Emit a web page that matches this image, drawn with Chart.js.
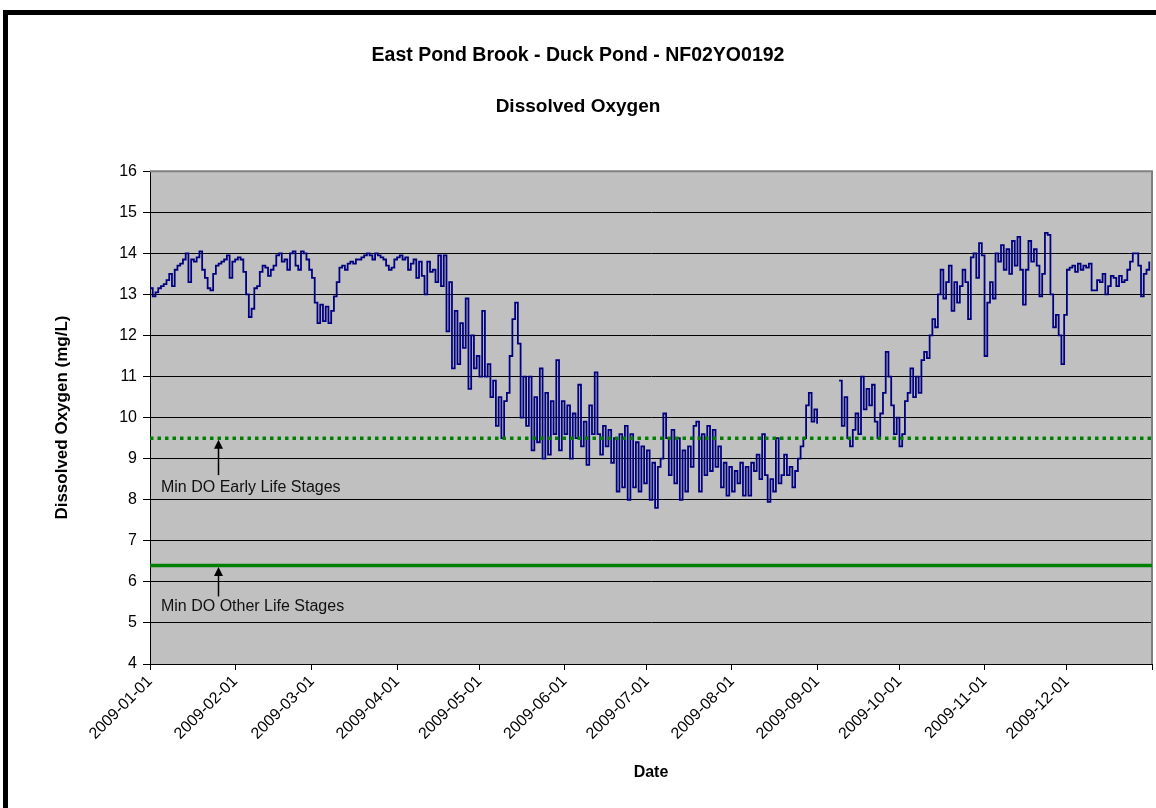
<!DOCTYPE html>
<html>
<head>
<meta charset="utf-8">
<title>East Pond Brook - Duck Pond - Dissolved Oxygen</title>
<script src="https://cdn.jsdelivr.net/npm/chart.js@4.4.0/dist/chart.umd.min.js"></script>
<style>
  html, body { margin: 0; padding: 0; background: #fff; overflow: hidden; }
  #wrap { position: absolute; left: 0; top: 0; width: 1156px; height: 808px; }
  #frame { position: absolute; left: 3px; top: 10px; width: 1200px; height: 900px;
           border: 5px solid #000; pointer-events: none; }
</style>
</head>
<body>
<div id="wrap"><canvas id="chart" width="1156" height="808"></canvas></div>
<div id="frame"></div>
<script>
// daily dissolved oxygen readings (mg/L), one value per day of 2009
const jan = [13.15, 12.95, 13.05, 13.15, 13.2, 13.25, 13.35, 13.5, 13.2, 13.6,
  13.7, 13.75, 13.85, 14.0, 13.3, 13.85, 13.8, 13.9, 14.05, 13.6,
  13.4, 13.15, 13.1, 13.5, 13.7, 13.75, 13.8, 13.85, 13.95, 13.4, 13.8];
const feb = [13.85, 13.9, 13.85, 13.55, 13.0, 12.45, 12.65, 13.15, 13.2, 13.55,
  13.7, 13.65, 13.45, 13.6, 13.7, 13.95, 14.0, 13.8, 13.85, 13.6,
  14.0, 14.05, 13.7, 13.6, 14.05, 14.0, 13.85, 13.6];
const mar = [13.4, 12.8, 12.3, 12.75, 12.35, 12.7, 12.3, 12.6, 12.95, 13.3,
  13.65, 13.7, 13.6, 13.75, 13.8, 13.75, 13.85, 13.85, 13.9, 13.95,
  14.0, 13.95, 13.85, 14.0, 13.95, 13.9, 13.85, 13.7, 13.6, 13.65, 13.85];
const apr = [13.9, 13.95, 13.85, 13.9, 13.6, 13.75, 13.85, 13.4, 13.8, 13.45,
  13.0, 13.8, 13.55, 13.6, 13.3, 13.95, 13.2, 13.95, 12.1, 13.3,
  11.2, 12.6, 11.3, 12.3, 11.7, 12.9, 10.7, 12.0, 11.2, 11.5];
const may = [11.0, 12.6, 11.0, 11.3, 10.5, 10.9, 9.8, 10.5, 9.5, 10.4,
  10.6, 11.5, 12.4, 12.8, 11.8, 10.0, 11.0, 9.8, 11.0, 9.2,
  10.5, 9.4, 11.2, 9.0, 10.6, 9.1, 10.4, 9.6, 11.4, 9.2, 10.4];
const jun = [9.6, 10.3, 9.0, 10.1, 9.5, 10.8, 9.3, 9.9, 8.85, 10.3,
  9.6, 11.1, 9.6, 9.1, 9.8, 9.3, 9.7, 8.9, 9.5, 8.2,
  9.6, 8.3, 9.8, 8.0, 9.6, 8.3, 9.4, 8.2, 9.3, 8.4];
const jul = [9.2, 8.0, 8.9, 7.8, 8.8, 9.0, 10.1, 9.5, 8.6, 9.7,
  8.4, 9.5, 8.0, 9.2, 8.2, 9.3, 8.8, 9.8, 9.9, 8.2,
  9.6, 8.6, 9.8, 8.7, 9.7, 8.8, 9.3, 8.3, 8.9, 8.1, 8.8];
const aug = [8.2, 8.7, 8.4, 8.9, 8.1, 8.8, 8.1, 8.9, 8.7, 9.1,
  8.5, 9.6, 8.6, 7.95, 8.5, 8.2, 9.5, 8.4, 8.6, 9.1,
  8.6, 8.8, 8.3, 8.7, 9.0, 9.3, 9.5, 10.3, 10.6, 9.9, 10.2];
const sep = [9.85, null, null, null, null, null, null, null, 10.9, 9.8,
  10.5, 9.5, 9.3, 9.7, 10.1, 9.6, 11.0, 10.2, 10.7, 10.3,
  10.8, 9.9, 9.5, 10.1, 10.6, 11.6, 11.0, 10.3, 9.6, 10.0];
const oct = [9.3, 9.6, 10.4, 10.6, 11.2, 10.5, 11.0, 10.6, 11.4, 11.6,
  11.45, 12.0, 12.4, 12.2, 13.0, 13.6, 12.9, 13.3, 13.7, 12.6,
  13.3, 12.8, 13.2, 13.6, 13.3, 12.4, 13.9, 14.0, 13.4, 14.25, 13.95];
const nov = [11.5, 12.8, 13.3, 12.9, 14.0, 13.8, 14.2, 13.6, 14.1, 13.5,
  14.3, 13.7, 14.4, 13.6, 12.75, 13.6, 14.3, 13.8, 14.1, 13.7,
  12.95, 13.5, 14.5, 14.45, 13.0, 12.2, 12.5, 12.0, 11.3, 12.5];
const dec = [13.6, 13.65, 13.7, 13.55, 13.75, 13.6, 13.7, 13.65, 13.75, 13.1,
  13.1, 13.35, 13.3, 13.5, 13.0, 13.2, 13.45, 13.4, 13.2, 13.45,
  13.3, 13.35, 13.6, 13.8, 14.0, 14.0, 13.7, 12.95, 13.5, 13.6, 13.8];

const dissolvedOxygen = [].concat(jan, feb, mar, apr, may, jun, jul, aug, sep, oct, nov, dec);

// guideline minimums (mg/L)
const earlyLifeMin = 9.5;
const otherLifeMin = 6.4;

// x axis: day of year, ticks at the first of each month
const monthStarts = [0, 31, 59, 90, 120, 151, 181, 212, 243, 273, 304, 334, 365];
const monthLabels = ['2009-01-01', '2009-02-01', '2009-03-01', '2009-04-01', '2009-05-01', '2009-06-01',
  '2009-07-01', '2009-08-01', '2009-09-01', '2009-10-01', '2009-11-01', '2009-12-01'];
const yTicks = [4, 5, 6, 7, 8, 9, 10, 11, 12, 13, 14, 15, 16];

const FONT = "'Liberation Sans', Arial, Helvetica, sans-serif";
Chart.defaults.font.family = FONT;
Chart.defaults.color = '#000';

// grey plot area, grey top/right edge like the original
const plotArea = {
  id: 'plotArea',
  beforeDraw(chart) {
    const { ctx, chartArea: a } = chart;
    ctx.save();
    ctx.fillStyle = '#fff';
    ctx.fillRect(0, 0, chart.width, chart.height);
    ctx.fillStyle = '#c0c0c0';
    ctx.fillRect(a.left, a.top, a.right - a.left, a.bottom - a.top);
    ctx.restore();
  },
  beforeDatasetsDraw(chart) {
    const { ctx, chartArea: a } = chart;
    ctx.save();
    ctx.strokeStyle = '#808080';
    ctx.lineWidth = 2;
    ctx.beginPath();
    ctx.moveTo(a.left, a.top);
    ctx.lineTo(a.right, a.top);
    ctx.lineTo(a.right, a.bottom);
    ctx.stroke();
    ctx.restore();
  }
};

// arrows + labels pointing at the guideline lines
const guideNotes = {
  id: 'guideNotes',
  afterDatasetsDraw(chart) {
    const { ctx, scales: { x, y } } = chart;
    const ax = Math.round(x.getPixelForValue(24.8)) + 0.5;
    const tx = x.getPixelForValue(4.0);
    const notes = [
      { line: earlyLifeMin, tail: 37, text: 49, label: 'Min DO Early Life Stages' },
      { line: otherLifeMin, tail: 31, text: 41, label: 'Min DO Other Life Stages' }
    ];
    ctx.save();
    ctx.strokeStyle = '#000';
    ctx.fillStyle = '#000';
    ctx.lineWidth = 1.5;
    notes.forEach(n => {
      const ly = y.getPixelForValue(n.line);
      const tip = ly + 1.5;
      ctx.beginPath();
      ctx.moveTo(ax, ly + n.tail);
      ctx.lineTo(ax, tip + 8);
      ctx.stroke();
      ctx.beginPath();
      ctx.moveTo(ax, tip);
      ctx.lineTo(ax - 4.5, tip + 9);
      ctx.lineTo(ax + 4.5, tip + 9);
      ctx.closePath();
      ctx.fill();
      ctx.font = '16px ' + FONT;
      ctx.textAlign = 'left';
      ctx.textBaseline = 'middle';
      ctx.fillStyle = '#111';
      ctx.fillText(n.label, tx, ly + n.text);
      ctx.fillStyle = '#000';
    });
    ctx.restore();
  }
};

new Chart(document.getElementById('chart'), {
  type: 'line',
  data: {
    datasets: [
      {
        label: 'Min DO Early Life Stages',
        data: [{ x: 0, y: earlyLifeMin }, { x: 365, y: earlyLifeMin }],
        borderColor: '#008000',
        borderWidth: 3.5,
        borderDash: [3.5, 4],
        pointRadius: 0,
        order: 0
      },
      {
        label: 'Min DO Other Life Stages',
        data: [{ x: 0, y: otherLifeMin }, { x: 365, y: otherLifeMin }],
        borderColor: '#008000',
        borderWidth: 3.5,
        pointRadius: 0,
        order: 1
      },
      {
        label: 'Dissolved Oxygen',
        data: dissolvedOxygen.map((v, i) => ({ x: i, y: v })),
        borderColor: '#000080',
        borderWidth: 1.8,
        stepped: true,
        spanGaps: false,
        pointRadius: 0,
        order: 2
      }
    ]
  },
  options: {
    responsive: false,
    animation: false,
    devicePixelRatio: 1,
    layout: { padding: 0 },
    plugins: {
      legend: { display: false },
      tooltip: { enabled: false },
      title: {
        display: true,
        text: 'East Pond Brook - Duck Pond - NF02YO0192',
        color: '#000',
        font: { size: 19.5, weight: 'bold' },
        padding: { top: 44, bottom: 0 }
      },
      subtitle: {
        display: true,
        text: 'Dissolved Oxygen',
        color: '#000',
        font: { size: 19, weight: 'bold' },
        padding: { top: 28, bottom: 53 }
      }
    },
    scales: {
      x: {
        type: 'linear',
        min: 0,
        max: 365,
        afterBuildTicks: s => { s.ticks = monthStarts.map(v => ({ value: v })); },
        afterFit: s => { s.height = 144; s.paddingRight = 4; },
        ticks: {
          autoSkip: false,
          minRotation: 45,
          maxRotation: 45,
          padding: 2,
          color: '#000',
          font: { size: 16 },
          callback: (v, i) => monthLabels[i] || ''
        },
        grid: { drawOnChartArea: false, color: '#000', tickLength: 6 },
        border: { color: '#000', width: 1 },
        title: {
          display: true,
          text: 'Date',
          color: '#000',
          font: { size: 16, weight: 'bold' },
          padding: { top: 0, bottom: 26 }
        }
      },
      y: {
        min: 4,
        max: 16,
        afterBuildTicks: s => { s.ticks = yTicks.map(v => ({ value: v })); },
        afterFit: s => { s.width = 150; },
        ticks: { padding: 6, color: '#000', font: { size: 16 } },
        grid: {
          color: c => (c.tick && c.tick.value === 16 ? '#808080' : '#000'),
          tickColor: '#000',
          tickLength: 7,
          lineWidth: 1
        },
        border: { color: '#000', width: 1 },
        title: {
          display: true,
          text: 'Dissolved Oxygen (mg/L)',
          color: '#000',
          font: { size: 17, weight: 'bold' },
          padding: { top: 52, bottom: 0 }
        }
      }
    }
  },
  plugins: [plotArea, guideNotes]
});
</script>
</body>
</html>
